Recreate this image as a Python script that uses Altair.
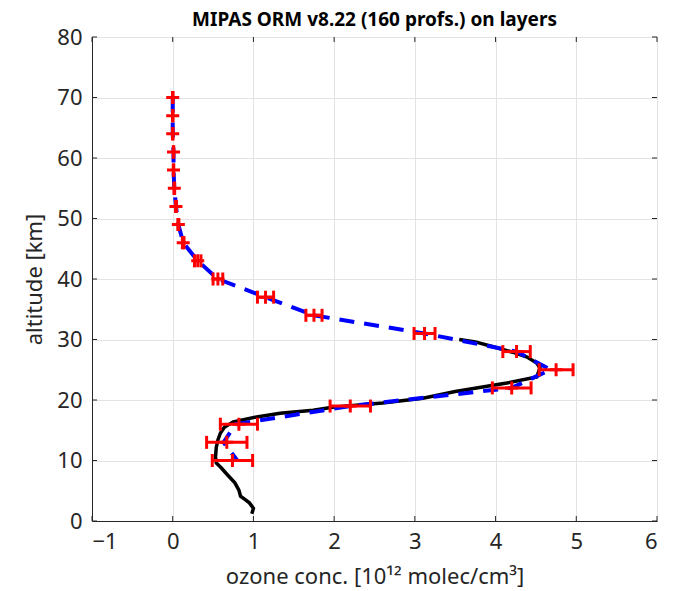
import altair as alt
import pandas as pd

# --- data ---
pt_alt = [70, 67, 64, 61, 58, 55, 52, 49, 46, 43, 40, 37, 34, 31, 28, 25, 22, 19, 16, 13, 10]
pt_val = [0.0, 0.0, 0.0, 0.01, 0.01, 0.02, 0.04, 0.07, 0.13, 0.31, 0.56, 1.15, 1.75, 3.12, 4.26, 4.75, 4.2, 2.2, 0.82, 0.67, 0.74]
pt_err = [0.003, 0.003, 0.003, 0.003, 0.003, 0.004, 0.005, 0.006, 0.01, 0.04, 0.06, 0.1, 0.1, 0.13, 0.17, 0.21, 0.24, 0.25, 0.23, 0.25, 0.25]

blue_alt = [70, 67, 64, 61, 58, 55, 52, 49, 46, 43, 40, 37, 34, 31, 28, 25, 22, 19, 16, 13, 10]
blue_val = [0.0, 0.0, 0.0, 0.01, 0.01, 0.02, 0.04, 0.07, 0.13, 0.31, 0.56, 1.15, 1.75, 3.12, 4.26, 4.68, 4.2, 2.2, 0.78, 0.63, 0.8]

ref_alt = [1.2, 2.1, 3.0, 3.6, 4.1, 5.1, 6.3, 7.6, 8.8, 9.6, 10.6, 12.2, 13.4, 14.5, 15.5, 16.4, 17.2, 17.8,
           18.3, 18.8, 19.5, 20.3, 21.4, 22.8, 23.8, 25.3, 26.1, 27.1, 27.9, 28.8, 29.6, 30.0]
ref_val = [0.98, 1.0, 0.95, 0.89, 0.84, 0.82, 0.77, 0.68, 0.60, 0.54, 0.53, 0.54, 0.56, 0.59, 0.64, 0.75, 1.04, 1.33,
           1.74, 1.98, 2.6, 3.1, 3.5, 4.14, 4.51, 4.55, 4.51, 4.39, 4.21, 3.97, 3.75, 3.55]

x_ticks = [-1, 0, 1, 2, 3, 4, 5, 6]
y_ticks = [0, 10, 20, 30, 40, 50, 60, 70, 80]

TITLE = "MIPAS ORM v8.22 (160 profs.) on layers"
XTITLE = "ozone conc. [10¹² molec/cm³]"
YTITLE = "altitude [km]"

FONT = "Noto Sans"
TXT = "#262626"
W, H = 565, 484

pts = pd.DataFrame({"alt": pt_alt, "val": pt_val, "err": pt_err})
pts["lo"] = pts["val"] - pts["err"]
pts["hi"] = pts["val"] + pts["err"]
blue = pd.DataFrame({"alt": blue_alt, "val": blue_val, "i": range(len(blue_alt))})
ref = pd.DataFrame({"alt": ref_alt, "val": ref_val, "i": range(len(ref_alt))})
xt = pd.DataFrame({"v": x_ticks})
yt = pd.DataFrame({"v": y_ticks})

xscale = alt.Scale(domain=[-1, 6], nice=False, zero=False)
yscale = alt.Scale(domain=[0, 80], nice=False, zero=False)

xaxis = alt.Axis(title=XTITLE, values=x_ticks, grid=True, ticks=False, labelPadding=10,
                 titlePadding=14, labelFontSize=22, titleFontSize=22, labelColor=TXT, titleColor=TXT,
                 labelFont=FONT, titleFont=FONT, titleFontWeight="normal", domainColor=TXT,
                 gridColor="#e3e3e3", format="d")
yaxis = alt.Axis(title=YTITLE, values=y_ticks, grid=True, ticks=False, labelPadding=10,
                 titlePadding=10, labelFontSize=22, titleFontSize=22, labelColor=TXT, titleColor=TXT,
                 labelFont=FONT, titleFont=FONT, titleFontWeight="normal", domainColor=TXT,
                 gridColor="#e3e3e3", format="d")

base_ref = alt.Chart(ref).mark_line(color="black", strokeWidth=3.5).encode(
    x=alt.X("val:Q", scale=xscale, axis=xaxis),
    y=alt.Y("alt:Q", scale=yscale, axis=yaxis),
    order="i:Q",
)

blue_line = alt.Chart(blue).mark_line(color="#0000ff", strokeWidth=4, strokeDash=[15, 10]).encode(
    x=alt.X("val:Q", scale=xscale), y=alt.Y("alt:Q", scale=yscale), order="i:Q")

err_bar = alt.Chart(pts).mark_rule(color="#ff0000", strokeWidth=3).encode(
    x=alt.X("lo:Q", scale=xscale), x2="hi:Q", y=alt.Y("alt:Q", scale=yscale))

vshape = "M0,-1L0,1"
caps_lo = alt.Chart(pts).mark_point(shape=vshape, size=169, strokeWidth=3, color="#ff0000", opacity=1, filled=False).encode(
    x=alt.X("lo:Q", scale=xscale), y=alt.Y("alt:Q", scale=yscale))
caps_hi = alt.Chart(pts).mark_point(shape=vshape, size=169, strokeWidth=3, color="#ff0000", opacity=1, filled=False).encode(
    x=alt.X("hi:Q", scale=xscale), y=alt.Y("alt:Q", scale=yscale))
center = alt.Chart(pts).mark_point(shape="M-1,0L1,0M0,-1L0,1", size=169, strokeWidth=3, color="#ff0000", opacity=1, filled=False).encode(
    x=alt.X("val:Q", scale=xscale), y=alt.Y("alt:Q", scale=yscale))

TL = 5
tick_b = alt.Chart(xt).mark_rule(color=TXT, strokeWidth=1).encode(
    x=alt.X("v:Q", scale=xscale), y=alt.value(H), y2=alt.value(H - TL))
tick_t = alt.Chart(xt).mark_rule(color=TXT, strokeWidth=1).encode(
    x=alt.X("v:Q", scale=xscale), y=alt.value(0), y2=alt.value(TL))
tick_l = alt.Chart(yt).mark_rule(color=TXT, strokeWidth=1).encode(
    y=alt.Y("v:Q", scale=yscale), x=alt.value(0), x2=alt.value(TL))
tick_r = alt.Chart(yt).mark_rule(color=TXT, strokeWidth=1).encode(
    y=alt.Y("v:Q", scale=yscale), x=alt.value(W), x2=alt.value(W - TL))

chart = alt.layer(base_ref, blue_line, err_bar, caps_lo, caps_hi, center,
                  tick_b, tick_t, tick_l, tick_r).properties(
    width=W, height=H,
    title=alt.TitleParams(TITLE, font=FONT, fontSize=19, fontWeight="bold", color="black",
                          anchor="middle", offset=0, dy=4),
    autosize=alt.AutoSizeParams(type="none"),
    padding={"left": 92, "top": 37, "right": 18, "bottom": 70},
).configure_view(stroke=TXT, strokeWidth=1).configure(background="white")

chart.save("out.html", embed_options={"renderer": "svg", "actions": False})
